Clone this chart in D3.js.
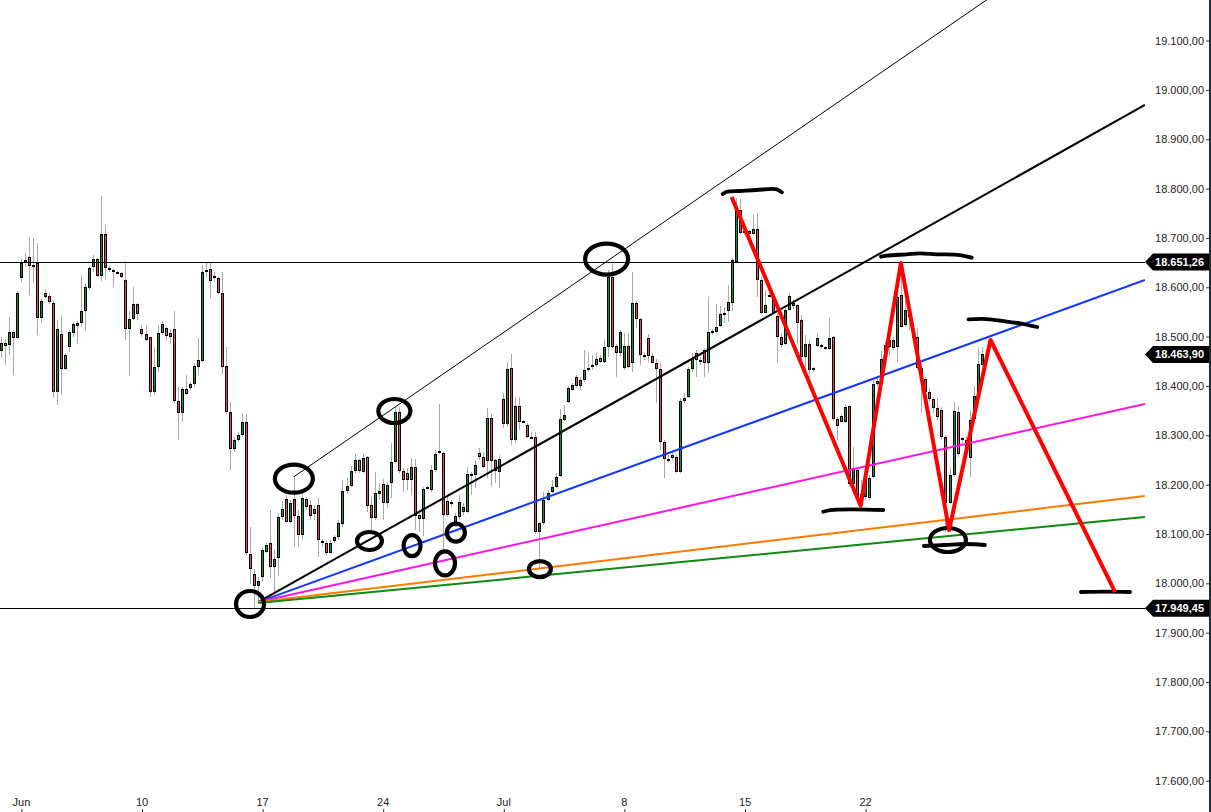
<!DOCTYPE html>
<html><head><meta charset="utf-8">
<script src="https://cdn.jsdelivr.net/npm/d3@7"></script>
<style>html,body{margin:0;padding:0;background:#fff;overflow:hidden}svg{display:block;font-family:"Liberation Sans",Arial,sans-serif}</style>
</head><body><svg id="c" width="1211" height="812"></svg>
<script>
// ---------- DATA ----------
const open=[18471,18488,18484,18509,18498,18618,18650,18661,18645,18650,
18538,18588,18582,18569,18388,18505,18434,18478,18508,18522,
18527,18552,18599,18642,18657,18623,18708,18640,18636,18631,
18628,18615,18515,18535,18566,18515,18505,18499,18387,18439,
18507,18517,18500,18515,18370,18346,18393,18395,18404,18439,
18451,18632,18637,18623,18618,18588,18440,18347,18272,18290,
18301,18326,18059,18018,17995,18013,18064,18082,18034,18051,
18134,18170,18125,18170,18136,18097,18171,18159,18140,18159,
18085,18082,18062,18086,18093,18120,18187,18197,18228,18250,
18225,18257,18159,18132,18181,18201,18162,18203,18245,18348,
18228,18223,18209,18236,18138,18130,18195,18189,18230,18268,
18264,18167,18164,18125,18135,18145,18145,18222,18220,18264,
18257,18247,18336,18249,18225,18373,18322,18436,18291,18359,
18330,18321,18296,18297,18105,18122,18168,18186,18195,18218,
18331,18368,18392,18419,18399,18412,18432,18438,18443,18456,
18449,18480,18621,18481,18467,18436,18481,18446,18569,18535,
18463,18497,18461,18446,18434,18287,18253,18255,18257,18226,
18370,18377,18434,18467,18453,18472,18446,18511,18509,18522,
18548,18551,18569,18652,18757,18715,18715,18709,18719,18615,
18548,18584,18581,18542,18500,18486,18555,18562,18565,18534,
18459,18486,18432,18481,18483,18478,18474,18499,18334,18339,
18328,18359,18201,18230,18176,18176,18172,18215,18403,18409,
18455,18480,18493,18480,18584,18524,18554,18513,18499,18436,
18414,18388,18373,18355,18351,18297,18163,18220,18348,18294,
18291,18255,18334,18378,18442];
const high=[18500,18496,18540,18513,18592,18657,18670,18702,18699,18690,
18578,18596,18588,18574,18534,18542,18467,18513,18530,18532,
18625,18608,18643,18665,18659,18785,18726,18645,18638,18633,
18632,18654,18551,18601,18569,18524,18524,18500,18476,18524,
18532,18520,18515,18551,18398,18398,18422,18409,18446,18497,
18645,18652,18652,18632,18621,18630,18480,18368,18296,18307,
18345,18343,18115,18030,18013,18074,18082,18149,18068,18142,
18166,18179,18169,18216,18149,18182,18176,18169,18159,18172,
18089,18088,18088,18098,18128,18209,18213,18238,18262,18253,
18262,18258,18176,18226,18203,18211,18206,18285,18358,18358,
18233,18233,18255,18253,18142,18196,18197,18240,18270,18363,
18267,18176,18169,18142,18179,18162,18236,18226,18250,18274,
18267,18355,18343,18253,18260,18385,18449,18465,18378,18378,
18332,18324,18307,18307,18125,18186,18189,18209,18223,18353,
18361,18399,18407,18422,18419,18473,18466,18463,18466,18463,
18493,18635,18651,18486,18513,18507,18507,18632,18573,18537,
18467,18505,18466,18455,18447,18290,18260,18267,18263,18375,
18385,18439,18466,18473,18459,18476,18581,18515,18567,18562,
18561,18605,18660,18780,18778,18719,18717,18746,18750,18621,
18594,18588,18588,18547,18507,18561,18588,18574,18567,18544,
18503,18493,18439,18507,18486,18481,18537,18501,18338,18343,
18361,18361,18277,18233,18209,18217,18220,18412,18419,18470,
18490,18500,18500,18588,18640,18574,18568,18520,18517,18446,
18419,18395,18378,18375,18358,18301,18236,18368,18358,18297,
18297,18351,18399,18476,18480];
const low=[18456,18442,18463,18422,18496,18611,18642,18584,18608,18503,
18528,18578,18567,18375,18361,18382,18432,18468,18500,18485,
18520,18512,18594,18630,18621,18613,18616,18632,18600,18627,
18618,18493,18421,18534,18534,18500,18492,18378,18381,18429,
18503,18493,18485,18365,18290,18327,18382,18392,18398,18423,
18449,18620,18578,18611,18586,18425,18344,18230,18267,18287,
18297,18057,17999,17949.45,17960,18003,18061,18010,17980,18014,
18128,18122,18122,18074,18074,18088,18149,18128,18128,18054,
18074,18057,18061,18081,18088,18115,18182,18196,18222,18224,
18223,18145,18108,18128,18169,18128,18152,18172,18243,18224,
18186,18189,18179,18108,18105,18095,18189,18186,18226,18262,
18064,18135,18155,18115,18128,18139,18142,18179,18193,18250,
18233,18213,18196,18203,18193,18314,18318,18280,18284,18311,
18324,18294,18292,18101,18031,18118,18166,18184,18193,18216,
18330,18365,18389,18395,18392,18409,18429,18432,18439,18446,
18446,18458,18476,18419,18459,18432,18436,18429,18517,18442,
18453,18449,18446,18365,18270,18213,18243,18250,18223,18224,
18366,18375,18429,18419,18442,18419,18426,18503,18507,18520,
18527,18530,18551,18650,18709,18706,18703,18706,18581,18546,
18547,18580,18547,18447,18480,18483,18554,18557,18486,18453,
18432,18412,18429,18480,18474,18473,18473,18330,18290,18326,
18324,18196,18182,18169,18152,18169,18169,18213,18400,18405,
18453,18461,18473,18449,18520,18520,18513,18490,18432,18348,
18385,18368,18345,18331,18290,18105,18161,18216,18257,18284,
18270,18216,18331,18375,18439];
const close=[18488,18482,18509,18497,18588,18650,18655,18644,18644,18538,
18572,18581,18571,18388,18515,18435,18463,18509,18525,18527,
18552,18600,18640,18657,18623,18708,18640,18636,18634,18629,
18621,18515,18535,18566,18545,18505,18494,18387,18438,18507,
18525,18502,18507,18370,18346,18393,18383,18403,18440,18453,
18632,18635,18613,18620,18588,18438,18348,18272,18290,18301,
18328,18061,18030,17995,18005,18068,18078,18034,18049,18135,
18150,18125,18162,18136,18098,18172,18155,18136,18150,18088,
18084,18062,18081,18093,18123,18187,18197,18228,18250,18228,
18255,18157,18132,18184,18187,18162,18199,18245,18348,18228,
18209,18209,18236,18136,18130,18191,18193,18230,18262,18266,
18139,18139,18162,18137,18164,18155,18221,18220,18240,18257,
18236,18336,18247,18228,18252,18322,18434,18291,18359,18328,
18326,18297,18293,18105,18122,18169,18184,18196,18216,18333,
18341,18395,18402,18399,18413,18432,18437,18443,18454,18449,
18480,18621,18480,18467,18509,18481,18439,18569,18535,18463,
18458,18461,18447,18434,18287,18253,18250,18260,18226,18370,
18375,18434,18456,18453,18449,18447,18509,18509,18520,18545,
18546,18571,18655,18757,18711,18711,18709,18719,18615,18547,
18564,18582,18548,18499,18484,18555,18582,18569,18528,18459,
18486,18432,18436,18497,18478,18476,18497,18334,18319,18328,
18358,18201,18233,18176,18182,18213,18213,18404,18410,18455,
18483,18493,18476,18581,18520,18555,18540,18497,18436,18415,
18388,18373,18355,18338,18296,18163,18220,18349,18263,18291,
18277,18332,18380,18445,18463.90];

const xTickIndex=[5,35,65,95,125,155,185,215];
const xTickLabels=["Jun","10","17","24","Jul","8","15","22"];
const yTickValues=[17600,17700,17800,17900,18000,18100,18200,18300,18400,18500,18600,18700,18800,18900,19000,19100];
const levelValues=[18651.26,17949.45];
const tagValues=[18651.26,18463.90,17949.45];

// fan lines from the low: [index, value]
const fanStart=[[64,17962],[64,17962],[64,17962],[64,17962],[64,17960]];
const fanEnd=[[284.6,18969.5],[284.6,18614.8],[284.6,18363.5],[284.6,18177.0],[284.6,18134.4]];
const thinLine=[[72.9,18216],[248.6,19201.3]];
// red zigzag projection
const zigzag=[[181.8,18783],[213.9,18157.4],[223.9,18649.2],[235.9,18108],[246.2,18493.2],[277.2,17982.4]];
// hand-drawn marker strokes
const strokes=[
 [[179.6,18789.1],[180.6,18793.7],[183.9,18795.2],[188.0,18797.2],[193.0,18798.6],[194.3,18792.5]],
 [[218.96,18662.0],[220.4,18664.0],[225.3,18666.9],[228.6,18668.9],[232.8,18666.9],[238.6,18665.4],[241.5,18660.0]],
 [[240.7,18535.1],[245.2,18535.7],[250.2,18530.3],[253.5,18527.0],[257.8,18519.5]],
 [[204.6,18145.2],[206.3,18148.6],[212.1,18150.0],[219.5,18148.6]],
 [[229.6,18075.7],[234.9,18077.7],[239.8,18079.7],[244.8,18077.7]],
 [[268.7,17982.4],[274.7,17983.4],[280.9,17982.4]]
];
// ellipse centres [index, value]
const ellipseCenters=[[62.0,17958.1],[72.9,18212.1],[97.9,18349.3],[91.7,18085.8],[102.3,18076.3],[110.5,18040.6],[113.2,18102.6],[134.1,18029.0],[150.7,18657.3],[235.6,18087.8]];

// ---------- STYLES / LAYOUT ----------
const W=1211,H=812,plotRight=1145,step=4.02,x0=0.8;
const ellipseRadii=[[14,13],[19,14],[16,12],[12.5,9],[8.5,10.5],[10,12],[9,9],[11,8],[21.5,15.5],[18,12]];
const fanStyles=[{c:"#000000",w:2},{c:"#1237ff",w:2},{c:"#ff14e6",w:2},{c:"#ff7b00",w:2},{c:"#0f8a12",w:2}];
const GREEN="#1d8c3c",RED="#ea4760",WICK="#a9a9a9";

const N=open.length;
const svg=d3.select("#c");
const x=d3.scaleLinear().domain([0,N-1]).range([x0,x0+(N-1)*step]);
const y=d3.scaleLinear().domain([17600,19100]).range([780.7,40.6]);
const loc=d3.formatLocale({decimal:",",thousands:".",grouping:[3],currency:["",""]});
const fmt=loc.format(",.2f");

svg.append("rect").attr("width",W).attr("height",H).attr("fill","#fff");
svg.append("defs").append("clipPath").attr("id","plot").append("rect").attr("x",0).attr("y",0).attr("width",plotRight).attr("height",H);
const plot=svg.append("g").attr("clip-path","url(#plot)");

// candles
const idx=d3.range(N);
const cg=plot.append("g").attr("shape-rendering","crispEdges");
cg.selectAll("line.w").data(idx).join("line").attr("class","w")
  .attr("x1",i=>Math.round(x(i))+0.5).attr("x2",i=>Math.round(x(i))+0.5)
  .attr("y1",i=>y(high[i])).attr("y2",i=>y(low[i])).attr("stroke",WICK).attr("stroke-width",1);
const geo=i=>{const t=Math.round(y(Math.max(open[i],close[i])));const b=Math.round(y(Math.min(open[i],close[i])));return {t,h:Math.max(2,b-t)};};
cg.selectAll("rect.b").data(idx).join("rect").attr("class","b")
  .attr("x",i=>Math.round(x(i))-1).attr("y",i=>geo(i).t).attr("width",3).attr("height",i=>geo(i).h).attr("fill","#000");
cg.selectAll("rect.f").data(idx.filter(i=>geo(i).h>2)).join("rect").attr("class","f")
  .attr("x",i=>Math.round(x(i))).attr("y",i=>geo(i).t+1).attr("width",1).attr("height",i=>geo(i).h-2)
  .attr("fill",i=>close[i]>=open[i]?GREEN:RED);

// horizontal levels
plot.selectAll("line.lvl").data(levelValues).join("line").attr("class","lvl")
  .attr("x1",0).attr("x2",plotRight).attr("y1",d=>Math.round(y(d))+0.5).attr("y2",d=>Math.round(y(d))+0.5)
  .attr("stroke","#000").attr("stroke-width",1);

// fan lines
plot.selectAll("line.fan").data(d3.range(fanStart.length)).join("line").attr("class","fan")
  .attr("x1",k=>x(fanStart[k][0])).attr("y1",k=>y(fanStart[k][1]))
  .attr("x2",k=>x(fanEnd[k][0])).attr("y2",k=>y(fanEnd[k][1]))
  .attr("stroke",k=>fanStyles[k].c).attr("stroke-width",k=>fanStyles[k].w);
plot.append("line").attr("x1",x(thinLine[0][0])).attr("y1",y(thinLine[0][1]))
  .attr("x2",x(thinLine[1][0])).attr("y2",y(thinLine[1][1])).attr("stroke","#000").attr("stroke-width",1);

// ellipses
plot.selectAll("ellipse").data(d3.range(ellipseCenters.length)).join("ellipse")
  .attr("cx",k=>x(ellipseCenters[k][0])).attr("cy",k=>y(ellipseCenters[k][1]))
  .attr("rx",k=>ellipseRadii[k][0]).attr("ry",k=>ellipseRadii[k][1])
  .attr("fill","none").attr("stroke","#000").attr("stroke-width",4.2);

// hand strokes
const ln=d3.line().x(d=>x(d[0])).y(d=>y(d[1])).curve(d3.curveCatmullRom);
plot.selectAll("path.hs").data(strokes).join("path").attr("class","hs").attr("d",ln)
  .attr("fill","none").attr("stroke","#000").attr("stroke-width",3.8).attr("stroke-linecap","round");

// red zigzag
plot.append("path").attr("d",d3.line().x(d=>x(d[0])).y(d=>y(d[1]))(zigzag))
  .attr("fill","none").attr("stroke","#ff0000").attr("stroke-width",4).attr("stroke-linejoin","round").attr("stroke-linecap","butt");

// y axis
const ya=svg.append("g").attr("transform","translate(1209,0)")
  .call(d3.axisLeft(y).tickValues(yTickValues).tickFormat(fmt).tickSize(3).tickPadding(2));
ya.select(".domain").remove();
ya.attr("font-family",'"Liberation Sans",Arial,sans-serif').attr("font-size",11);
ya.selectAll("text").attr("fill","#222");
ya.selectAll("line").attr("stroke","#333");

// x axis
const xa=svg.append("g").attr("transform",`translate(0,${H})`)
  .call(d3.axisTop(x).tickValues(xTickIndex).tickFormat((d,i)=>xTickLabels[i]).tickSize(3).tickPadding(3));
xa.select(".domain").remove();
xa.attr("font-family",'"Liberation Sans",Arial,sans-serif').attr("font-size",11);
xa.selectAll("text").attr("fill","#222");
xa.selectAll("line").attr("stroke","#333").attr("transform","translate(0.5,0)");

// price tags
const tg=svg.append("g").selectAll("g").data(tagValues).join("g").attr("transform",d=>`translate(0,${y(d)})`);
tg.append("path").attr("d","M1145,0L1153,-8.5L1209,-8.5L1209,8.5L1153,8.5Z").attr("fill","#000");
tg.append("text").attr("x",1204).attr("text-anchor","end").attr("dy","0.36em").attr("fill","#fff")
  .attr("font-size",11).attr("font-weight","bold").text(d=>fmt(d));

// right border
svg.append("rect").attr("x",1209).attr("y",0).attr("width",2).attr("height",H).attr("fill","#1e2b30");
</script></body></html>
